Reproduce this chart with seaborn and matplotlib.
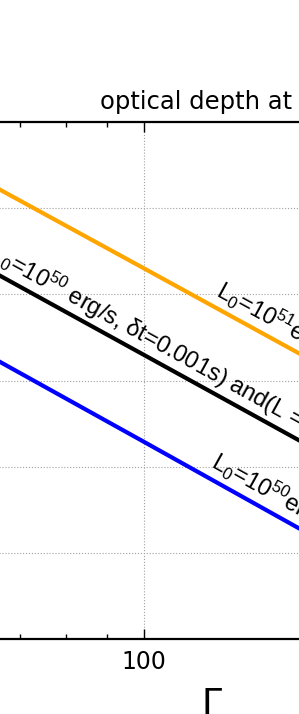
import numpy as np
import matplotlib
matplotlib.use("Agg")
import matplotlib.pyplot as plt
import matplotlib.ticker as ticker
import matplotlib.transforms as mtransforms
import seaborn as sns

### optical depth vs Lorentz factor ###

# values #
gamma = [60, 100, 160]
tau_orange = [26.7, 2.0, 0.183]
tau_black = [2.69, 0.198, 0.0179]
tau_blue = [0.27, 0.0194, 0.0017]

label_orange = r"L$_0$=10$^{51}$erg/s, δt=0.001s"
label_black = r"(L$_0$=10$^{50}$ erg/s, δt=0.001s) and(L = 10$^{51}$ erg/s, δt=0.01s)"
label_blue = r"L$_0$=10$^{50}$erg/s, δt=0.01s"

# where the labels start along the lines (Gamma) #
anchor_orange = 122.6
anchor_black = 62.5
anchor_blue = 120.8

title = "optical depth at"
x_label = "Γ"

# style #
sns.set_style("ticks")
plt.rcParams['font.family'] = ['DejaVu Sans']
plt.rcParams['text.color'] = 'black'
plt.rcParams['axes.labelcolor'] = 'black'
plt.rcParams['xtick.color'] = 'black'
plt.rcParams['ytick.color'] = 'black'
plt.rcParams['mathtext.fontset'] = 'custom'
plt.rcParams['mathtext.rm'] = 'Liberation Sans'
plt.rcParams['mathtext.it'] = 'Liberation Sans'
plt.rcParams['mathtext.bf'] = 'Liberation Sans:bold'

W, H = 299, 714
fig = plt.figure(figsize=(W / 100, H / 100), dpi=100)

# axes are much bigger than the visible window #
x0_px, dec_x = 144, 800      # pixel of Gamma=100, pixels per decade
top_px, bot_px = 122, 639
ax = fig.add_axes([(x0_px - dec_x) / W, (H - bot_px) / H,
                   2 * dec_x / W, (bot_px - top_px) / H])
ax.set_xscale('log')
ax.set_yscale('log')
ax.set_xlim(10, 1000)
ax.set_ylim(1e-4, 1e2)

sns.lineplot(x=gamma, y=tau_orange, color='orange', lw=3, ax=ax)
sns.lineplot(x=gamma, y=tau_black, color='black', lw=3, ax=ax)
sns.lineplot(x=gamma, y=tau_blue, color='blue', lw=3, ax=ax)

ax.grid(True, which='major', linestyle=':', color='#a0a0a0', linewidth=0.8)
ax.tick_params(which='both', direction='in', top=True, right=True,
               labelsize=17, pad=8)
ax.tick_params(which='major', length=7.2, width=1.0)
ax.tick_params(which='minor', length=3.6, width=1.0)
ax.xaxis.set_major_formatter(ticker.FuncFormatter(lambda v, p: '{:g}'.format(v)))
ax.xaxis.set_minor_formatter(ticker.NullFormatter())
for s in ax.spines.values():
    s.set_linewidth(1.6)
    s.set_color('black')

ax.set_xlabel(x_label, fontsize=26)
ax.xaxis.set_label_coords((212 - (x0_px - dec_x)) / (2 * dec_x), -(687 - bot_px) / (bot_px - top_px))

# labels along the lines #
shift = mtransforms.offset_copy(ax.transData, fig=fig, x=0, y=11.5, units='dots')
for g, t, lab, a in [(gamma, tau_orange, label_orange, anchor_orange),
                     (gamma, tau_black, label_black, anchor_black),
                     (gamma, tau_blue, label_blue, anchor_blue)]:
    p1 = ax.transData.transform((g[0], t[0]))
    p2 = ax.transData.transform((g[-1], t[-1]))
    ang = np.degrees(np.arctan2(p2[1] - p1[1], p2[0] - p1[0]))
    ty = 10 ** np.interp(np.log10(a), np.log10(g), np.log10(t))
    ax.text(a, ty, lab, transform=shift, rotation=ang, rotation_mode='anchor',
            ha='left', va='baseline', fontsize=17, family=['Liberation Sans'])

fig.text(100.5 / W, (H - 109) / H, title, fontsize=17.5, ha='left', va='baseline')

plt.savefig("out.png", dpi=100)
